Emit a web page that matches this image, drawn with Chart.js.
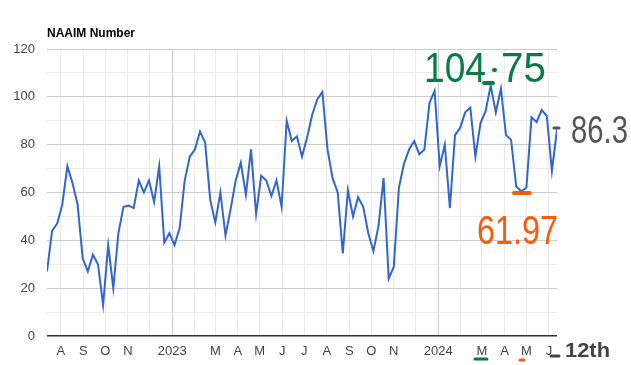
<!DOCTYPE html>
<html>
<head>
<meta charset="utf-8">
<style>
  html, body { margin: 0; padding: 0; background: #fff; }
</style>
<script src="https://cdn.jsdelivr.net/npm/chart.js@4.4.1/dist/chart.umd.min.js"></script>
</head>
<body>
<canvas id="naaimChart" width="631" height="365"></canvas>
<script>
// weekly readings, first one on this date
const firstWeek = '2022-07-13';
const naaim = [
  27, 44, 47, 55, 71, 64, 55, 32.5, 27, 34,
  30, 13, 38, 20, 43, 54, 54.5, 53.5, 65, 60,
  65, 56, 71, 39, 43, 38, 45, 65, 75, 78,
  85.5, 81, 57, 47.5, 60, 42, 53, 65, 72.5, 59,
  78, 51, 67, 65, 58.5, 65, 54, 90, 81.5, 83.5,
  75, 83, 92.5, 99, 102, 78, 66, 60, 34.5, 61,
  50, 58, 54, 43, 35.5, 46, 66, 24, 29, 62,
  72, 78, 81.5, 76, 78, 97.5, 102.5, 71, 80, 53.5,
  84, 87, 93.5, 95.5, 75, 89, 94, 104.75, 93.5, 103.5,
  84, 82, 62.5, 60.5, 61.97, 91.5, 89.5, 94.5, 92, 69,
  86.3
];
const monthStarts = [
  '2022-08-01', '2022-09-01', '2022-10-01', '2022-11-01', '2022-12-01',
  '2023-01-01', '2023-02-01', '2023-03-01', '2023-04-01', '2023-05-01', '2023-06-01',
  '2023-07-01', '2023-08-01', '2023-09-01', '2023-10-01', '2023-11-01', '2023-12-01',
  '2024-01-01', '2024-02-01', '2024-03-01', '2024-04-01', '2024-05-01', '2024-06-01'
];
const monthLabels = ['A', 'S', 'O', 'N', '', '2023', '', 'M', 'A', 'M', 'J',
  'J', 'A', 'S', 'O', 'N', '', '2024', '', 'M', 'A', 'M', 'J'];
const yMax = 120;

const DAY = 86400000;
const dayOf = d => Math.round((Date.parse(d) - Date.parse(firstWeek)) / DAY);
const tickDays = monthStarts.map(dayOf);
const labelByDay = {};
tickDays.forEach((d, i) => { labelByDay[d] = monthLabels[i]; });
const points = naaim.map((v, i) => ({ x: i * 7, y: v }));

const FONT = '"Liberation Sans", Arial, sans-serif';

// hand-written notes on top of the chart
function note(ctx, text, x, base, width, size, color, weight) {
  ctx.save();
  ctx.font = (weight || 'normal') + ' ' + size + 'px ' + FONT;
  const w = ctx.measureText(text).width;
  ctx.translate(x, base);
  ctx.scale(width / w, 1);
  ctx.fillStyle = color;
  ctx.textBaseline = 'alphabetic';
  ctx.fillText(text, 0, 0);
  ctx.restore();
}
function dash(ctx, x1, y1, x2, y2, color, w) {
  ctx.save();
  ctx.strokeStyle = color;
  ctx.lineWidth = w;
  ctx.lineCap = 'round';
  ctx.beginPath();
  ctx.moveTo(x1, y1);
  ctx.lineTo(x2, y2);
  ctx.stroke();
  ctx.restore();
}

const extras = {
  id: 'extras',
  afterDraw(chart) {
    const ctx = chart.ctx;
    ctx.save();
    ctx.font = 'bold 12px ' + FONT;
    ctx.fillStyle = '#000';
    ctx.textBaseline = 'alphabetic';
    ctx.fillText('NAAIM Number', 47, 37);
    ctx.restore();

    const green = '#0a7a48', orange = '#fa5a0a', grey = '#555';
    note(ctx, '104', 424, 82, 62, 42, green);
    note(ctx, '75', 501, 82, 45, 42, green);
    dash(ctx, 494, 70, 495, 70, green, 4);
    dash(ctx, 484, 83, 493, 83, green, 4);
    dash(ctx, 475, 359, 487, 359, green, 3);

    note(ctx, '61.97', 477, 244, 81, 40, orange);
    dash(ctx, 514, 193, 530, 193, orange, 4);
    dash(ctx, 520, 360, 524, 360, orange, 3);

    note(ctx, '86.3', 571, 143, 57, 39, grey);
    dash(ctx, 554, 128, 559, 128, grey, 3);

    dash(ctx, 551, 356, 559, 356, '#444', 3);
    note(ctx, '12th', 565, 357, 45, 21, '#444', 'bold');
  }
};

new Chart(document.getElementById('naaimChart'), {
  type: 'line',
  data: {
    datasets: [{
      label: 'NAAIM Number',
      data: points,
      borderColor: '#3366cc',
      borderWidth: 2,
      pointRadius: 0,
      tension: 0,
      fill: false
    }]
  },
  options: {
    responsive: false,
    animation: false,
    devicePixelRatio: 1,
    layout: { padding: { left: 0, right: 74, top: 49, bottom: 0 } },
    plugins: {
      legend: { display: false },
      tooltip: { enabled: false }
    },
    scales: {
      x: {
        type: 'linear',
        min: 0,
        max: (naaim.length - 1) * 7,
        afterBuildTicks: s => { s.ticks = tickDays.map(v => ({ value: v })); },
        afterFit: s => { s.height = 29; },
        border: { display: false },
        grid: {
          drawTicks: false,
          color: c => (labelByDay[c.tick.value] || '').length === 4 ? '#cccccc' : '#ebebeb'
        },
        ticks: {
          autoSkip: false,
          maxRotation: 0,
          padding: 8,
          color: '#444',
          font: { family: FONT, size: 13 },
          callback: v => labelByDay[v] || ''
        }
      },
      y: {
        min: 0,
        max: yMax,
        afterFit: s => { s.width = 47; },
        border: { display: false },
        grid: {
          drawTicks: false,
          lineWidth: c => c.tick.value === 0 ? 1.5 : 1,
          color: c => c.tick.value === 0 ? '#333' : (c.tick.value % 20 === 0 ? '#cccccc' : '#ebebeb')
        },
        ticks: {
          stepSize: 10,
          padding: 12,
          color: '#444',
          font: { family: FONT, size: 13 },
          callback: v => v % 20 === 0 ? v : ''
        }
      }
    }
  },
  plugins: [extras]
});
</script>
</body>
</html>
